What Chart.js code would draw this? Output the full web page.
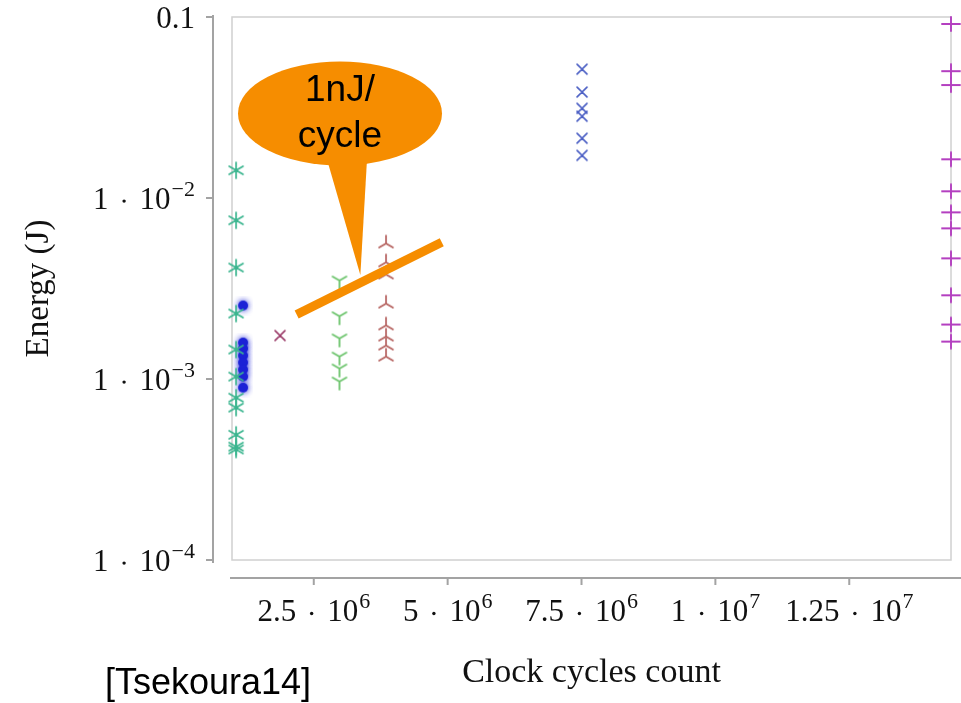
<!DOCTYPE html>
<html>
<head>
<meta charset="utf-8">
<script src="https://cdn.jsdelivr.net/npm/chart.js@4.4.1/dist/chart.umd.min.js"></script>
<style>
  html, body { margin: 0; padding: 0; background: #ffffff; }
  #wrap { position: relative; width: 961px; height: 703px; }
  #cite { position: absolute; left: 105px; top: 664px; font: 36px "Liberation Sans", Arial, sans-serif; color: #000; line-height: 1; }
</style>
</head>
<body>
<div id="wrap">
  <canvas id="chart" width="961" height="703"></canvas>
  <div id="cite">[Tsekoura14]</div>
</div>
<script>
// ---- axis ticks ----
const cycleTicks = [2.5e6, 5e6, 7.5e6, 1e7, 1.25e7];
const cycleTickMantissa = ['2.5', '5', '7.5', '1', '1.25'];
const cycleTickExponent = ['6', '6', '6', '7', '7'];
const energyTicks = [0.1, 1e-2, 1e-3, 1e-4];
const energyTickMantissa = ['0.1', '1', '1', '1'];
const energyTickExponent = ['', '\u22122', '\u22123', '\u22124'];
const cycleRange = [0.973e6, 14.40e6];
const energyRange = [1e-4, 0.1];

// ---- measured runs: one clock-cycle count per implementation, energies per run ----
const seriesCycles = [1.05e6, 1.18e6, 1.87e6, 2.98e6, 3.85e6, 7.51e6, 14.40e6];
const energyAsterisk = [0.01423, 0.00753, 0.00413, 0.00230, 0.001455, 0.001031, 0.000789, 0.000695, 0.000492, 0.000423, 0.000408];
const energyDot = [0.002547, 0.001589, 0.001473, 0.001347, 0.001233, 0.001127, 0.001031, 0.000896];
const energyCross = [0.001738];
const energyTriDown = [0.00350, 0.00222, 0.001675, 0.00133, 0.001142, 0.000968];
const energyTriUp = [0.00561, 0.00441, 0.00378, 0.00261, 0.001977, 0.001717, 0.001531, 0.00133];
const energyBlueCross = [0.0515, 0.0385, 0.0313, 0.0283, 0.0214, 0.0172];
const energyPlus = [0.0915, 0.0502, 0.0421, 0.01637, 0.01089, 0.00833, 0.00680, 0.00464, 0.00290, 0.00200, 0.00161];

// ---- 1 nJ/cycle reference segment and its callout ----
const refCycles = [2.18e6, 4.89e6];
const refEnergy = [2.27e-3, 5.69e-3];
const calloutCenter = [2.99e6, 0.0293];
const calloutTip = [3.37e6, 3.75e-3];
const calloutLines = ['1nJ/', 'cycle'];

const ORANGE = '#f68d00';
const SERIF = '"Liberation Serif", "Times New Roman", serif';

function marker(size, color, lw, draw, glow) {
  const c = document.createElement('canvas');
  c.width = size; c.height = size;
  const g = c.getContext('2d');
  g.strokeStyle = color; g.fillStyle = color;
  g.lineWidth = lw; g.lineCap = 'round';
  if (glow) { g.shadowColor = color; g.shadowBlur = glow; }
  draw(g, size / 2, size / 2, size / 2 - 2);
  return c;
}
function spokes(angles) {
  return (g, cx, cy, r) => {
    g.beginPath();
    angles.forEach(a => {
      const t = a * Math.PI / 180;
      g.moveTo(cx, cy);
      g.lineTo(cx + r * Math.cos(t), cy - r * Math.sin(t));
    });
    g.stroke();
  };
}
const mAsterisk = marker(20, '#3bb58f', 1.7, spokes([90, 270, 30, 150, 210, 330]));
const mDot = marker(20, '#1c22d6', 1, (g, cx, cy) => { g.beginPath(); g.arc(cx, cy, 5, 0, Math.PI * 2); g.fill(); }, 6);
const mCross = marker(18, '#9c3d6a', 1.7, spokes([45, 135, 225, 315]));
const mTriDown = marker(20, '#6cc46c', 1.8, spokes([30, 150, 270]));
const mTriUp = marker(20, '#b5615e', 1.7, spokes([90, 210, 330]));
const mBlueCross = marker(18, '#4b5fc4', 1.7, spokes([45, 135, 225, 315]));
const mPlus = marker(22, '#b43fc0', 1.9, (g, cx, cy, r) => {
  g.beginPath();
  g.moveTo(cx - r, cy); g.lineTo(cx + r, cy);
  g.moveTo(cx, cy - r + 2); g.lineTo(cx, cy + r - 2);
  g.stroke();
});

function scatterSet(label, cycles, energies, style) {
  return {
    type: 'scatter', label,
    data: energies.map(e => ({ x: cycles, y: e })),
    pointStyle: style, pointRadius: 9, pointHoverRadius: 9,
    clip: false, order: 1
  };
}

const datasets = [
  {
    type: 'line', label: '1nJ/cycle',
    data: refCycles.map((c, i) => ({ x: c, y: refEnergy[i] })),
    borderColor: ORANGE, borderWidth: 9, borderCapStyle: 'butt',
    pointRadius: 0, pointHoverRadius: 0, order: 0, clip: false
  },
  scatterSet('asterisk', seriesCycles[0], energyAsterisk, mAsterisk),
  scatterSet('dot', seriesCycles[1], energyDot, mDot),
  scatterSet('cross', seriesCycles[2], energyCross, mCross),
  scatterSet('tri-down', seriesCycles[3], energyTriDown, mTriDown),
  scatterSet('tri-up', seriesCycles[4], energyTriUp, mTriUp),
  scatterSet('blue-cross', seriesCycles[5], energyBlueCross, mBlueCross),
  scatterSet('plus', seriesCycles[6], energyPlus, mPlus)
];

// mantissa · 10^exponent, with a raised smaller exponent
const DOT_GAP = 0.5;
const EXP_SCALE = 0.72;
function sciWidth(ctx, man, exp, fs) {
  ctx.font = fs + 'px ' + SERIF;
  if (!exp) return ctx.measureText(man).width;
  const base = ctx.measureText(man).width + ctx.measureText('10').width + fs * DOT_GAP * 2 + 1;
  ctx.font = Math.round(fs * EXP_SCALE) + 'px ' + SERIF;
  return base + ctx.measureText(exp).width;
}
function drawSci(ctx, x, y, man, exp, fs) {
  ctx.textAlign = 'left'; ctx.textBaseline = 'alphabetic';
  ctx.font = fs + 'px ' + SERIF;
  ctx.fillText(man, x, y);
  if (!exp) return;
  let cx = x + ctx.measureText(man).width + fs * DOT_GAP;
  ctx.beginPath(); ctx.arc(cx, y - fs * 0.24, fs * 0.055, 0, Math.PI * 2); ctx.fill();
  cx += fs * DOT_GAP;
  ctx.fillText('10', cx, y);
  cx += ctx.measureText('10').width + 1;
  ctx.font = Math.round(fs * EXP_SCALE) + 'px ' + SERIF;
  ctx.fillText(exp, cx, y - fs * 0.42);
}

const axesPlugin = {
  id: 'offsetAxes',
  beforeDatasetsDraw(chart) {
    const { ctx, chartArea: a, scales: { x, y } } = chart;
    ctx.save();
    // light frame round the plot area
    ctx.strokeStyle = '#d0d0d0'; ctx.lineWidth = 1.5;
    ctx.strokeRect(a.left, a.top, a.right - a.left, a.bottom - a.top);
    // detached y axis
    const yx = a.left - 19;
    ctx.strokeStyle = '#a3a3a3'; ctx.lineWidth = 2;
    ctx.beginPath(); ctx.moveTo(yx, a.top - 2); ctx.lineTo(yx, a.bottom + 3); ctx.stroke();
    energyTicks.forEach((v, i) => {
      const py = y.getPixelForValue(v);
      ctx.beginPath(); ctx.moveTo(yx - 7, py); ctx.lineTo(yx, py); ctx.stroke();
      const fs = 31;
      const w = sciWidth(ctx, energyTickMantissa[i], energyTickExponent[i], fs);
      ctx.fillStyle = '#111';
      drawSci(ctx, yx - 18 - w, py + fs * 0.34, energyTickMantissa[i], energyTickExponent[i], fs);
    });
    // detached x axis
    const xy = a.bottom + 18;
    ctx.strokeStyle = '#a3a3a3';
    ctx.beginPath(); ctx.moveTo(a.left - 2, xy); ctx.lineTo(chart.width, xy); ctx.stroke();
    cycleTicks.forEach((v, i) => {
      const px = x.getPixelForValue(v);
      ctx.beginPath(); ctx.moveTo(px, xy); ctx.lineTo(px, xy + 7); ctx.stroke();
      const fs = 31;
      const w = sciWidth(ctx, cycleTickMantissa[i], cycleTickExponent[i], fs);
      ctx.fillStyle = '#111';
      drawSci(ctx, px - w / 2, xy + 43, cycleTickMantissa[i], cycleTickExponent[i], fs);
    });
    ctx.restore();
  },
  afterDatasetsDraw(chart) {
    const { ctx, scales: { x, y } } = chart;
    const cx = x.getPixelForValue(calloutCenter[0]);
    const cy = y.getPixelForValue(calloutCenter[1]);
    const tx = x.getPixelForValue(calloutTip[0]);
    const ty = y.getPixelForValue(calloutTip[1]);
    ctx.save();
    ctx.fillStyle = ORANGE;
    ctx.beginPath(); ctx.ellipse(cx, cy, 102, 52, 0, 0, Math.PI * 2); ctx.fill();
    ctx.beginPath();
    ctx.moveTo(cx - 13, cy + 46); ctx.lineTo(cx + 27, cy + 46); ctx.lineTo(tx, ty); ctx.closePath();
    ctx.fill();
    ctx.fillStyle = '#000';
    ctx.font = '37px "Liberation Sans", Arial, sans-serif';
    ctx.textAlign = 'center'; ctx.textBaseline = 'alphabetic';
    ctx.fillText(calloutLines[0], cx, cy - 12);
    ctx.fillText(calloutLines[1], cx, cy + 34);
    ctx.restore();
  }
};

new Chart(document.getElementById('chart'), {
  data: { datasets },
  options: {
    responsive: false, animation: false,
    layout: { padding: { top: 17, right: 8, left: 0, bottom: 0 } },
    plugins: { legend: { display: false }, tooltip: { enabled: false } },
    scales: {
      x: {
        type: 'linear', min: cycleRange[0], max: cycleRange[1],
        afterBuildTicks: s => { s.ticks = cycleTicks.map(v => ({ value: v })); },
        afterFit: s => { s.height = 143; },
        ticks: { display: false }, grid: { display: false }, border: { display: false },
        title: { display: true, text: 'Clock cycles count', color: '#111',
                 font: { family: SERIF, size: 34 }, padding: { top: 0, bottom: 10 } }
      },
      y: {
        type: 'logarithmic', min: energyRange[0], max: energyRange[1],
        afterBuildTicks: s => { s.ticks = energyTicks.map(v => ({ value: v })); },
        afterFit: s => { s.width = 232; },
        ticks: { display: false }, grid: { display: false }, border: { display: false },
        title: { display: true, text: 'Energy (J)', color: '#111',
                 font: { family: SERIF, size: 33 }, padding: { top: 20, bottom: 0 } }
      }
    }
  },
  plugins: [axesPlugin]
});
</script>
</body>
</html>
